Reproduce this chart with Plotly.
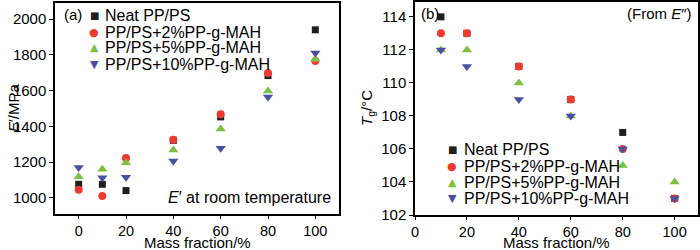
import plotly.graph_objects as go

# ---------------- data ----------------
mass_a = [0, 10, 20, 40, 60, 80, 100]
E_neat = [1076, 1076, 1041, 1322, 1453, 1684, 1940]
E_2pct = [1045, 1010, 1223, 1325, 1468, 1698, 1766]
E_5pct = [1119, 1160, 1197, 1268, 1385, 1598, 1776]
E_10pct = [1170, 1113, 1115, 1207, 1278, 1564, 1810]

mass_b = [10, 20, 40, 60, 80, 100]
Tg_neat = [114, 113, 111, 109, 107, 103]
Tg_2pct = [113, 113, 111, 109, 106, 103]
Tg_5pct = [112, 112, 110, 108, 105, 104]
Tg_10pct = [112, 111, 109, 108, 106, 103]

series_names = ["Neat PP/PS", "PP/PS+2%PP-g-MAH", "PP/PS+5%PP-g-MAH", "PP/PS+10%PP-g-MAH"]
colors = ["#1f1f1f", "#ee3b2f", "#7dbf3f", "#4a4fa3"]
symbols = ["square", "circle", "triangle-up", "triangle-down"]
legend_glyphs = ["■", "●", "▲", "▼"]
glyph_sizes = [10, 11, 11, 11]
sizes = [7, 8, 9, 9]

FONT = "Liberation Sans, Arial, sans-serif"

fig = go.Figure()

for name, ys, c, s, sz in zip(series_names, [E_neat, E_2pct, E_5pct, E_10pct], colors, symbols, sizes):
    fig.add_trace(go.Scatter(x=mass_a, y=ys, mode="markers", name=name, showlegend=False,
                             marker=dict(color=c, symbol=s, size=sz, line=dict(width=0)),
                             xaxis="x", yaxis="y"))

for name, ys, c, s, sz in zip(series_names, [Tg_neat, Tg_2pct, Tg_5pct, Tg_10pct], colors, symbols, sizes):
    fig.add_trace(go.Scatter(x=mass_b, y=ys, mode="markers", name=name, showlegend=False,
                             marker=dict(color=c, symbol=s, size=sz, line=dict(width=0)),
                             xaxis="x2", yaxis="y2"))

axis_common = dict(showline=True, linecolor="black", linewidth=1.5, mirror=True,
                   ticks="outside", tickwidth=1.2, tickcolor="black",
                   showgrid=False, zeroline=False)
y_tick = dict(ticklen=4, tickfont=dict(family=FONT, size=15, color="black"))
x_tick = dict(ticklen=3, tickfont=dict(family=FONT, size=14.5, color="black"))

W, H = 700, 250

annotations = [
    dict(text="(a)", x=62 / W, y=1 - 4 / H, xanchor="left", yanchor="top", font=dict(size=15)),
    dict(text="<i>E</i>′ at room temperature", x=333 / W, y=1 - 208 / H,
         xanchor="right", yanchor="bottom", font=dict(size=16)),
    dict(text="(b)", x=419 / W, y=1 - 3 / H, xanchor="left", yanchor="top", font=dict(size=15)),
    dict(text="(From <i>E</i>″)", x=694 / W, y=1 - 3 / H, xanchor="right", yanchor="top", font=dict(size=15)),
    dict(text="<i>E</i>′/MPa", x=14 / W, y=1 - 108 / H, xanchor="center", yanchor="middle",
         textangle=-90, font=dict(size=15)),
    dict(text="<i>T</i><sub>g</sub>/°C", x=368 / W, y=1 - 108 / H, xanchor="center", yanchor="middle",
         textangle=-90, font=dict(size=15)),
    dict(text="Mass fraction/%", x=197 / W, y=1 - 242 / H, xanchor="center", yanchor="middle",
         font=dict(size=15)),
    dict(text="Mass fraction/%", x=556 / W, y=1 - 242 / H, xanchor="center", yanchor="middle",
         font=dict(size=15)),
]

# legend rows (panel a top-left, panel b bottom-left)
legend_a = dict(sym_x=94, txt_x=103, rows=[15, 32, 48, 64])
legend_b = dict(sym_x=452, txt_x=462, rows=[149, 166, 182, 198])
for lg in (legend_a, legend_b):
    for name, c, g, gs, yy in zip(series_names, colors, legend_glyphs, glyph_sizes, lg["rows"]):
        annotations.append(dict(text=g, x=lg["sym_x"] / W, y=1 - yy / H, xanchor="center",
                                yanchor="middle", font=dict(size=gs, color=c,
                                family="DejaVu Sans")))
        annotations.append(dict(text=name, x=lg["txt_x"] / W, y=1 - yy / H, xanchor="left",
                                yanchor="middle", font=dict(size=16)))

for a in annotations:
    a.update(xref="paper", yref="paper", showarrow=False)

fig.update_layout(
    width=W, height=H,
    margin=dict(l=0, r=0, t=0, b=0, autoexpand=False),
    paper_bgcolor="white", plot_bgcolor="white",
    font=dict(family=FONT, size=15, color="black"),
    showlegend=False,
    xaxis=dict(domain=[55 / W, 339 / W], range=[-10, 110], tickvals=[0, 20, 40, 60, 80, 100],
               anchor="y", **axis_common, **x_tick),
    yaxis=dict(domain=[(H - 214) / H, (H - 3) / H], range=[910, 2090],
               tickvals=[1000, 1200, 1400, 1600, 1800, 2000], anchor="x", **axis_common, **y_tick),
    xaxis2=dict(domain=[415 / W, 698 / W], range=[0, 109], tickvals=[0, 20, 40, 60, 80, 100],
                anchor="y2", **axis_common, **x_tick),
    yaxis2=dict(domain=[(H - 215) / H, (H - 2) / H], range=[102, 114.9],
                tickvals=[102, 104, 106, 108, 110, 112, 114], anchor="x2", **axis_common, **y_tick),
    annotations=annotations,
)

fig.write_html("out.html", config={"displayModeBar": False},
               post_script="document.documentElement.style.margin='0';document.body.style.margin='0';document.body.style.padding='0';document.body.style.overflow='hidden';")
